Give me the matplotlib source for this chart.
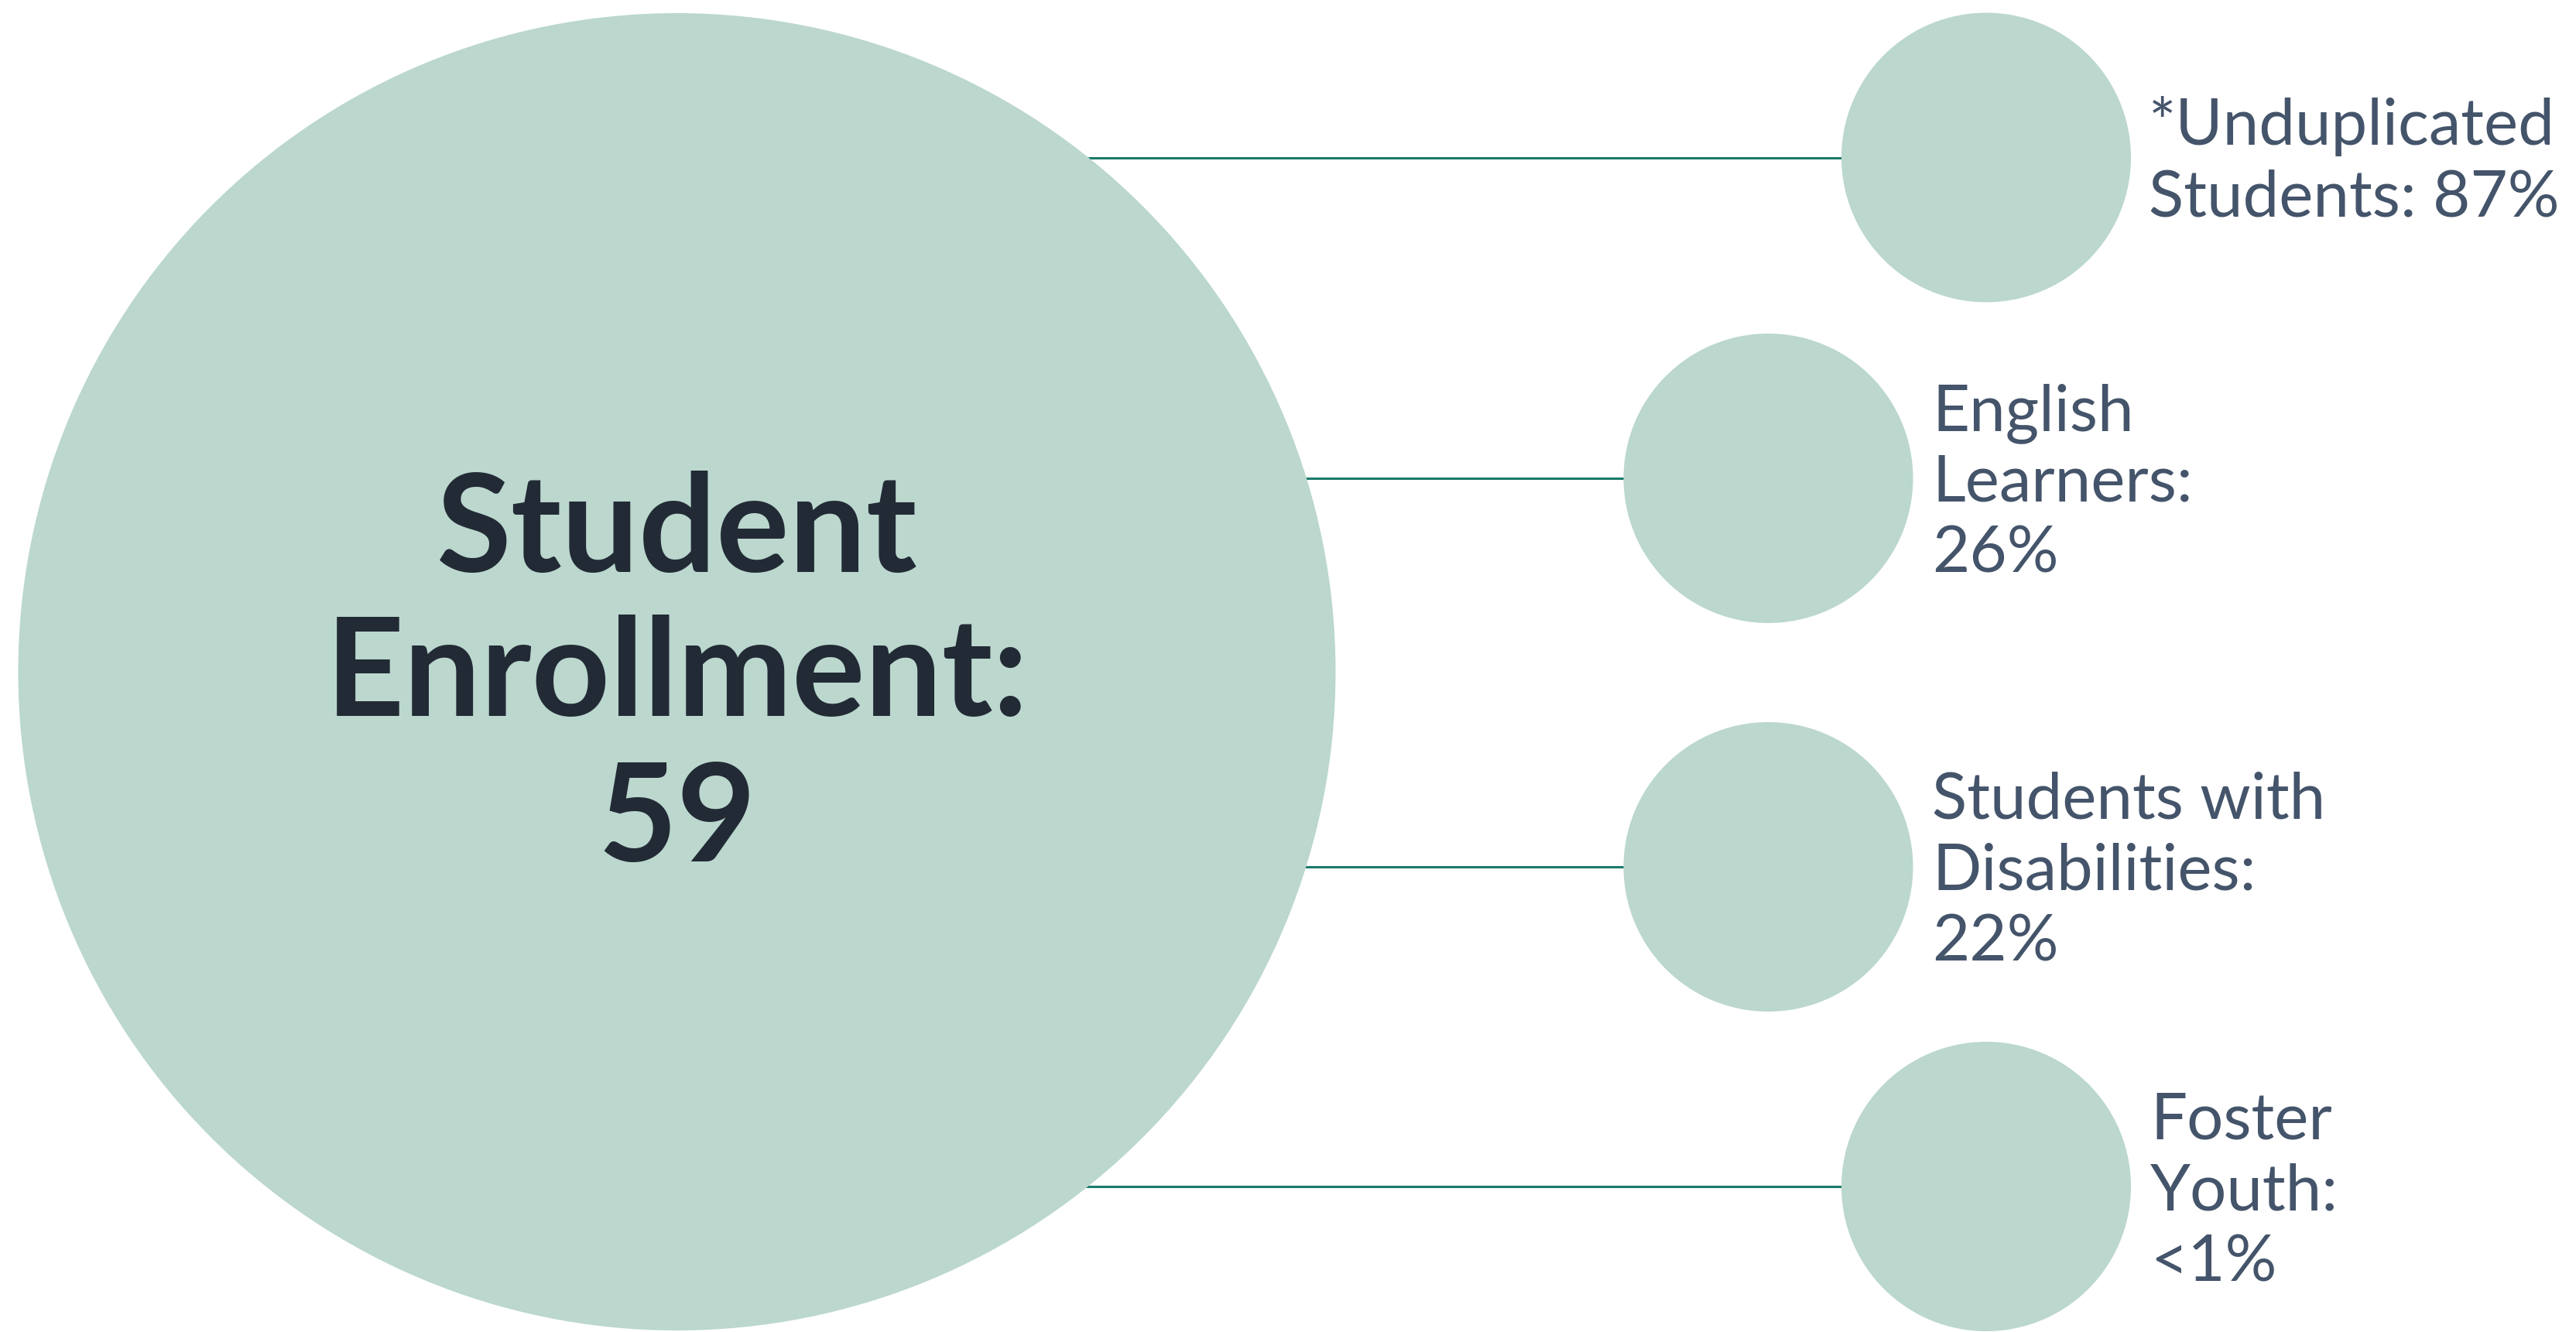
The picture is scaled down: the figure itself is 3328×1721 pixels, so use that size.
import matplotlib
matplotlib.use("Agg")
import matplotlib.pyplot as plt
from matplotlib.patches import Circle

# ---- data ----
total_label = ["Student", "Enrollment:"]
total_value = "59"
group_labels = [
    ["*Unduplicated", "Students:"],
    ["English", "Learners:"],
    ["Students with", "Disabilities:"],
    ["Foster", "Youth:"],
]
group_values = ["87%", "26%", "22%", "<1%"]

# ---- style ----
CIRCLE = "#bbd7ce"
LINE = "#1b7b6b"
BIG_TEXT = "#222b35"
SMALL_TEXT = "#44546a"

W, H = 3328, 1721
fig = plt.figure(figsize=(W / 100, H / 100), dpi=100)
ax = fig.add_axes([0, 0, 1, 1])
ax.set_xlim(0, W)
ax.set_ylim(H, 0)
ax.axis("off")

# layout (pixels)
big_c = (874.5, 868)
big_r = 851
small_r = 187
small_x = [2566, 2284.5, 2284.5, 2566]
small_y = [203.5, 618, 1120, 1533]
text_x = [2776, 2496, 2496, 2778]
line_gap = 92
cap_half = 30

ax.add_patch(Circle(big_c, big_r, facecolor=CIRCLE, edgecolor="none", zorder=3))

for i, (lab, val) in enumerate(zip(group_labels, group_values)):
    cx, cy = small_x[i], small_y[i]
    ax.plot([big_c[0], cx], [cy, cy], color=LINE, lw=2.2, zorder=1,
            solid_capstyle="butt")
    ax.add_patch(Circle((cx, cy), small_r, facecolor=CIRCLE, edgecolor="none", zorder=3))
    if lab[0].startswith("*"):
        lines = [lab[0], lab[1] + " " + val]
    else:
        lines = lab + [val]
    n = len(lines)
    for k, t in enumerate(lines):
        yb = cy + (k - (n - 1) / 2) * line_gap + cap_half
        ax.text(text_x[i], yb, t, fontsize=60, family="Lato", color=SMALL_TEXT,
                ha="left", va="baseline", zorder=5)

big_lines = total_label + [total_value]
big_baselines = [739, 925, 1113]
for t, yb in zip(big_lines, big_baselines):
    ax.text(big_c[0], yb, t, fontsize=127, family="Lato", fontweight="bold",
            color=BIG_TEXT, ha="center", va="baseline", zorder=5)

fig.savefig("out.png", dpi=100, facecolor="white")
